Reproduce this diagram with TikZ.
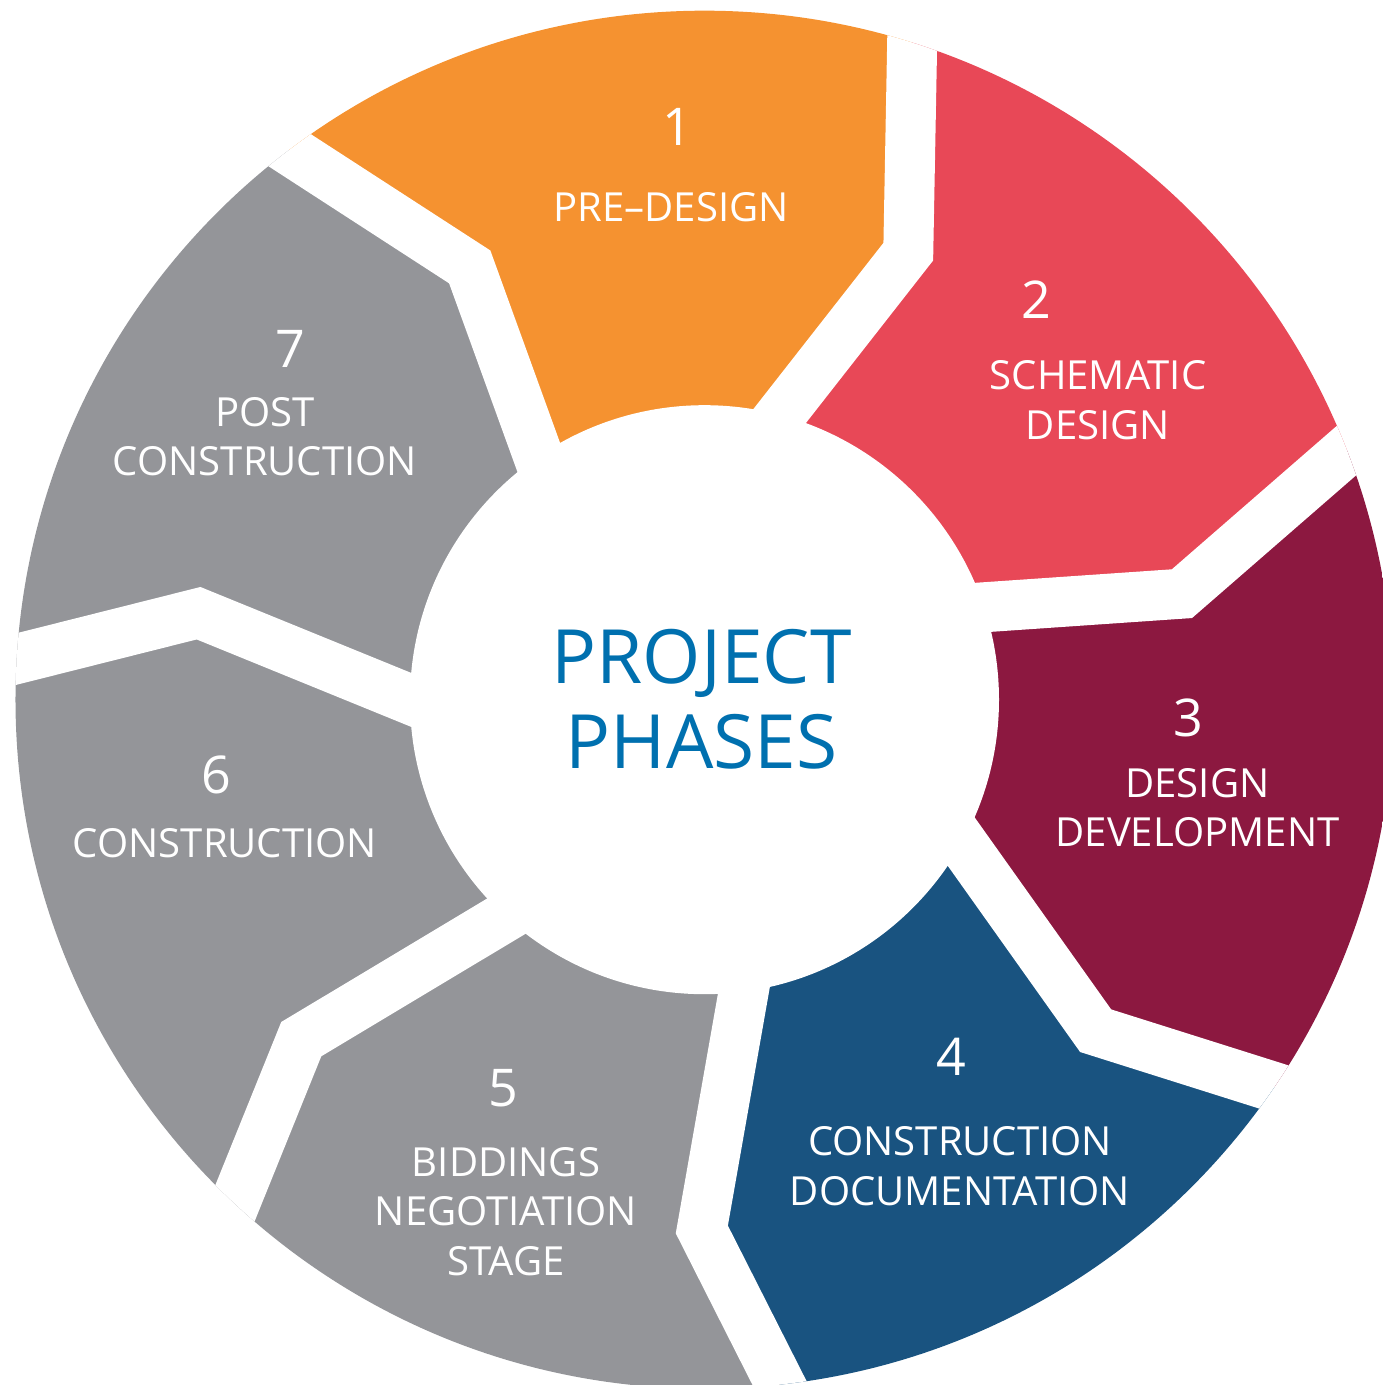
\documentclass[tikz,border=0pt]{standalone}
\usepackage{fontspec}
\setmainfont{Open Sans}
\usetikzlibrary{calc}

\definecolor{predesign}{RGB}{245,146,48}
\definecolor{schematic}{RGB}{232,72,87}
\definecolor{development}{RGB}{140,24,64}
\definecolor{documentation}{RGB}{25,83,128}
\definecolor{phasegray}{RGB}{148,149,153}
\definecolor{titleblue}{RGB}{0,112,175}

\begin{document}
\begin{tikzpicture}[x=0.1mm, y=0.1mm,
	divider/.style={draw=white, line width=5mm, line join=miter},
	num/.style={text=white, font=\fontsize{14.8}{16}\selectfont},
	lab/.style={text=white, align=center, font=\fontsize{11.4}{14.1}\selectfont},
	phasetitle/.style={text=titleblue, align=center, font=\fontsize{21.3}{24.2}\selectfont}]
	\useasboundingbox (-704.5,-685.3) rectangle (677.5,699.7);
	
	% Boundaries between phases (outer, middle, inner corner)
	\coordinate (out1) at (127.04:688.1); \coordinate (mid1) at (118.48:492.4); \coordinate (in1) at (124.34:294.3);
	\coordinate (out2) at (72.44:688.3);  \coordinate (mid2) at (65.54:492.2);  \coordinate (in2) at (75.09:294.3);
	\coordinate (out3) at (21.19:688);    \coordinate (mid3) at (12.52:489.1);  \coordinate (in3) at (18.33:293.7);
	\coordinate (out4) at (-34.25:687.6); \coordinate (mid4) at (-40.24:512.4); \coordinate (in4) at (-28.95:293.5);
	\coordinate (out5) at (-83.70:688.5); \coordinate (mid5) at (-90.29:529.8); \coordinate (in5) at (-82.24:292.7);
	\coordinate (out6) at (-133.04:687.2); \coordinate (mid6) at (-139.91:527.1); \coordinate (in6) at (-132.51:294.1);
	\coordinate (out7) at (176.59:688.2); \coordinate (mid7) at (170.30:513.3); \coordinate (in7) at (180:293.8);
	
	% Extend each boundary past the rings
	\foreach \k in {1,...,7}{
		\coordinate (outx\k) at ($(mid\k)!1.4!(out\k)$);
		\coordinate (inx\k) at ($(mid\k)!1.6!(in\k)$);
		\coordinate (far\k) at ($(0,0)!1.6!(out\k)$);
	}
	
	% Phases
	\begin{scope}
		\clip (0,0) circle (689);
		\fill[predesign] (0,0) -- (inx1) -- (mid1) -- (outx1) -- (far1) -- (far2) -- (outx2) -- (mid2) -- (inx2) -- cycle;
		\fill[schematic] (0,0) -- (inx2) -- (mid2) -- (outx2) -- (far2) -- (far3) -- (outx3) -- (mid3) -- (inx3) -- cycle;
		\fill[development] (0,0) -- (inx3) -- (mid3) -- (outx3) -- (far3) -- (far4) -- (outx4) -- (mid4) -- (inx4) -- cycle;
		\fill[documentation] (0,0) -- (inx4) -- (mid4) -- (outx4) -- (far4) -- (far5) -- (outx5) -- (mid5) -- (inx5) -- cycle;
		\fill[phasegray] (0,0) -- (inx5) -- (mid5) -- (outx5) -- (far5) -- (far6) -- (outx6) -- (mid6) -- (inx6) -- cycle;
		\fill[phasegray] (0,0) -- (inx6) -- (mid6) -- (outx6) -- (far6) -- (far7) -- (outx7) -- (mid7) -- (inx7) -- cycle;
		\fill[phasegray] (0,0) -- (inx7) -- (mid7) -- (outx7) -- (far7) -- (far1) -- (outx1) -- (mid1) -- (inx1) -- cycle;
		% White gaps
		\foreach \k in {1,...,7}
			\draw[divider] (inx\k) -- (mid\k) -- (outx\k);
	\end{scope}
	\fill[white] (0,0) circle (294.5);
	
	% Labels
	\node[num] (num1) at (-27.5,572.7) {1};
	\node[lab] (lab1) at (-33.5,492.7) {PRE–DESIGN};
	\node[num] (num2) at (331.5,399.7) {2};
	\node[lab] (lab2) at (393.5,299.7) {SCHEMATIC\\DESIGN};
	\node[num] (num3) at (483.5,-18.3) {3};
	\node[lab] (lab3) at (493,-107.8) {DESIGN\\DEVELOPMENT};
	\node[num] (num4) at (246.5,-357.3) {4};
	\node[lab] (lab4) at (255.5,-466.3) {CONSTRUCTION\\DOCUMENTATION};
	\node[num] (num5) at (-201.5,-388.3) {5};
	\node[lab] (lab5) at (-198.5,-511.6) {BIDDINGS\\NEGOTIATION\\STAGE};
	\node[num] (num6) at (-488.5,-75.3) {6};
	\node[lab] (lab6) at (-479.5,-143.3) {CONSTRUCTION};
	\node[num] (num7) at (-414.5,350.7) {7};
	\node[lab] (lab7) at (-439.5,263.2) {POST\\CONSTRUCTION};
	
	\node[phasetitle] (title) at (-3,0) {PROJECT\\PHASES};
\end{tikzpicture}
\end{document}
